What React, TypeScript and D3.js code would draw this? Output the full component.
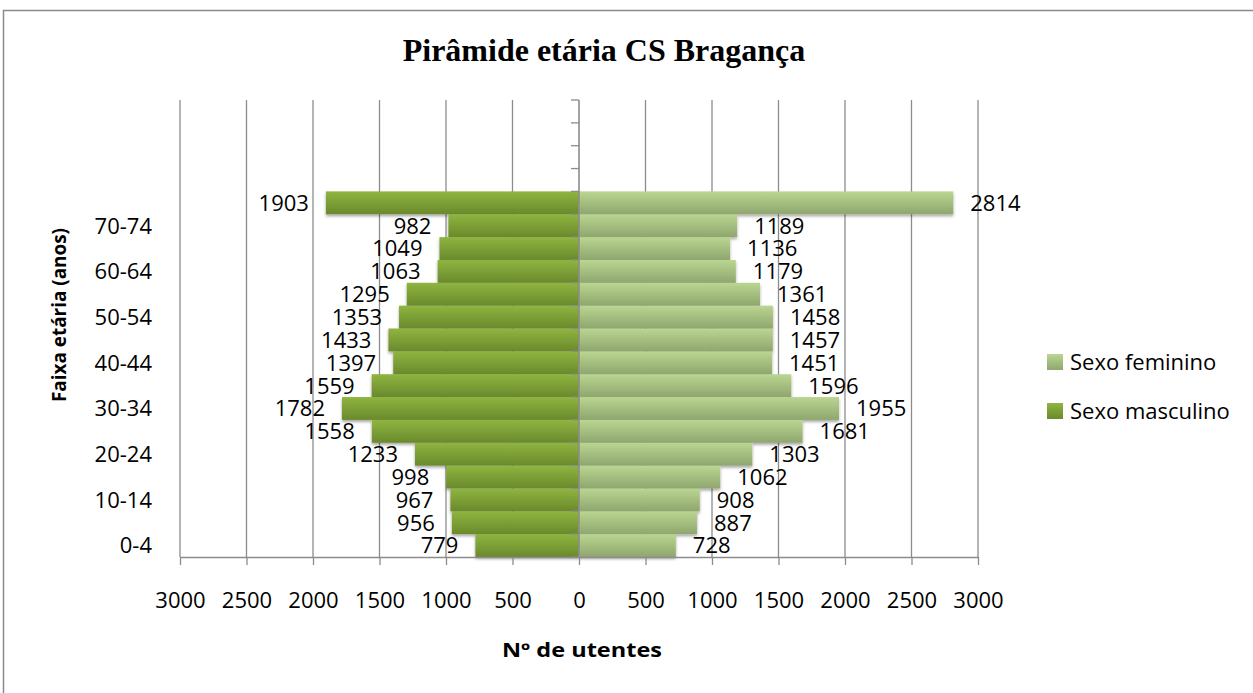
// App.tsx
// Pirâmide etária CS Bragança - population pyramid drawn with D3
import React, { useEffect, useRef } from "react";
import * as d3 from "d3";

// age groups from bottom to top (the last four slots are empty in the original sheet)
const ageGroups = [
  "0-4", "5-9", "10-14", "15-19", "20-24", "25-29", "30-34", "35-39",
  "40-44", "45-49", "50-54", "55-59", "60-64", "65-69", "70-74", "75+",
  "", "", "", "",
];
const masculino = [779, 956, 967, 998, 1233, 1558, 1782, 1559, 1397, 1433, 1353, 1295, 1063, 1049, 982, 1903];
const feminino = [728, 887, 908, 1062, 1303, 1681, 1955, 1596, 1451, 1457, 1458, 1361, 1179, 1136, 1189, 2814];
const xTicks = [-3000, -2500, -2000, -1500, -1000, -500, 0, 500, 1000, 1500, 2000, 2500, 3000];
const legendItems = [
  { label: "Sexo feminino", fill: "url(#gradFem)" },
  { label: "Sexo masculino", fill: "url(#gradMasc)" },
];

const W = 1253, H = 693;
const plot = { left: 180, right: 978, top: 100, bottom: 557 };
const FONT = "'Open Sans', 'Noto Sans', sans-serif";

export default function App() {
  const svgRef = useRef<SVGSVGElement>(null);

  useEffect(() => {
    if (!svgRef.current) return;
    const svg = d3.select(svgRef.current);
    svg.selectAll("*").remove();

    const x = d3.scaleLinear().domain([-3000, 3000]).range([plot.left, plot.right]);
    const y = d3.scaleBand<number>()
      .domain(ageGroups.map((_, i) => i))
      .range([plot.bottom, plot.top])
      .paddingInner(0)
      .paddingOuter(0);

    // gradients + shadow
    const defs = svg.append("defs");
    const grad = (id: string, top: string, bottom: string) => {
      const g = defs.append("linearGradient").attr("id", id)
        .attr("x1", 0).attr("y1", 0).attr("x2", 0).attr("y2", 1);
      g.append("stop").attr("offset", "0%").attr("stop-color", top);
      g.append("stop").attr("offset", "100%").attr("stop-color", bottom);
    };
    grad("gradMasc", "#8fb540", "#6a892c");
    grad("gradFem", "#bad691", "#8fa66e");
    const shadow = defs.append("filter").attr("id", "shadow")
      .attr("x", "-5%").attr("y", "-20%").attr("width", "110%").attr("height", "160%");
    shadow.append("feDropShadow").attr("dx", 0).attr("dy", 2)
      .attr("stdDeviation", 1.6).attr("flood-color", "#000").attr("flood-opacity", 0.35);

    // background + frame (right and bottom edges fall outside the picture)
    svg.append("rect").attr("width", W).attr("height", H).attr("fill", "#fff");
    svg.append("rect")
      .attr("x", 3.5).attr("y", 10.5).attr("width", W + 20).attr("height", H + 20)
      .attr("fill", "none").attr("stroke", "#8a8a8a").attr("stroke-width", 1.5);

    // title
    svg.append("text")
      .attr("x", 604).attr("y", 61)
      .attr("text-anchor", "middle")
      .attr("font-family", "'Liberation Serif', 'Times New Roman', serif")
      .attr("font-weight", "bold").attr("font-size", 32)
      .text("Pirâmide etária CS Bragança");

    // vertical gridlines
    svg.append("g").selectAll("line")
      .data(xTicks.filter((t) => t !== 0))
      .enter().append("line")
      .attr("x1", (d) => x(d)).attr("x2", (d) => x(d))
      .attr("y1", plot.top).attr("y2", plot.bottom)
      .attr("stroke", "#8c8c8c").attr("stroke-width", 1.3);

    // bars
    const bars = svg.append("g").attr("filter", "url(#shadow)");
    bars.selectAll("rect.masc")
      .data(masculino)
      .enter().append("rect")
      .attr("class", "masc")
      .attr("x", (d) => x(-d))
      .attr("y", (_, i) => y(i)!)
      .attr("width", (d) => x(0) - x(-d))
      .attr("height", y.bandwidth())
      .attr("fill", "url(#gradMasc)");
    bars.selectAll("rect.fem")
      .data(feminino)
      .enter().append("rect")
      .attr("class", "fem")
      .attr("x", x(0))
      .attr("y", (_, i) => y(i)!)
      .attr("width", (d) => x(d) - x(0))
      .attr("height", y.bandwidth())
      .attr("fill", "url(#gradFem)");

    // bottom axis
    const xAxis = svg.append("g")
      .attr("transform", `translate(0,${plot.bottom})`)
      .call(d3.axisBottom(x).tickValues(xTicks).tickSize(8).tickSizeOuter(0)
        .tickFormat((d) => String(Math.abs(d as number))));
    xAxis.select(".domain").attr("stroke", "#8c8c8c").attr("stroke-width", 1.5);
    xAxis.selectAll(".tick line").attr("stroke", "#8c8c8c").attr("stroke-width", 1.3);
    xAxis.selectAll(".tick text")
      .attr("font-family", FONT).attr("font-size", 22).attr("fill", "#000")
      .attr("dy", null).attr("y", 51);

    // vertical axis at zero with category tick marks
    const yAxis = svg.append("g");
    yAxis.append("line")
      .attr("x1", x(0)).attr("x2", x(0)).attr("y1", plot.top).attr("y2", plot.bottom)
      .attr("stroke", "#8c8c8c").attr("stroke-width", 1.6);
    yAxis.selectAll("line.tick")
      .data(ageGroups.map((_, i) => i))
      .enter().append("line")
      .attr("class", "tick")
      .attr("x1", x(0) - 8).attr("x2", x(0))
      .attr("y1", (i) => y(i)! + y.bandwidth()).attr("y2", (i) => y(i)! + y.bandwidth())
      .attr("stroke", "#8c8c8c").attr("stroke-width", 1.3);
    yAxis.append("line")
      .attr("x1", x(0) - 8).attr("x2", x(0)).attr("y1", plot.top).attr("y2", plot.top)
      .attr("stroke", "#8c8c8c").attr("stroke-width", 1.3);

    // category labels, every other one, at the low side
    svg.append("g").selectAll("text")
      .data(ageGroups.map((label, i) => ({ label, i })).filter((d) => d.i % 2 === 0 && d.label))
      .enter().append("text")
      .attr("x", 152)
      .attr("y", (d) => y(d.i)! + y.bandwidth() / 2)
      .attr("dy", "0.36em")
      .attr("text-anchor", "end")
      .attr("font-family", FONT).attr("font-size", 22)
      .text((d) => d.label);

    // data labels
    const labels = svg.append("g").attr("font-family", FONT).attr("font-size", 22);
    labels.selectAll("text.masc")
      .data(masculino)
      .enter().append("text")
      .attr("x", (d) => x(-d) - 17)
      .attr("y", (_, i) => y(i)! + y.bandwidth() / 2)
      .attr("dy", "0.36em")
      .attr("text-anchor", "end")
      .text((d) => d);
    labels.selectAll("text.fem")
      .data(feminino)
      .enter().append("text")
      .attr("x", (d) => x(d) + 17)
      .attr("y", (_, i) => y(i)! + y.bandwidth() / 2)
      .attr("dy", "0.36em")
      .attr("text-anchor", "start")
      .text((d) => d);

    // axis titles
    svg.append("text")
      .attr("transform", `translate(66,315) rotate(-90)`)
      .attr("text-anchor", "middle")
      .attr("font-family", FONT).attr("font-weight", "bold").attr("font-size", 19)
      .attr("textLength", 174).attr("lengthAdjust", "spacingAndGlyphs")
      .text("Faixa etária (anos)");
    svg.append("text")
      .attr("x", 582).attr("y", 657)
      .attr("text-anchor", "middle")
      .attr("font-family", FONT).attr("font-weight", "bold").attr("font-size", 19)
      .attr("textLength", 160).attr("lengthAdjust", "spacingAndGlyphs")
      .text("Nº  de utentes");

    // legend
    const legend = svg.append("g").attr("transform", "translate(1047,354)");
    const item = legend.selectAll("g")
      .data(legendItems)
      .enter().append("g")
      .attr("transform", (_, i) => `translate(0,${i * 49})`);
    item.append("rect").attr("width", 16).attr("height", 16).attr("fill", (d) => d.fill);
    item.append("text")
      .attr("x", 23).attr("y", 8).attr("dy", "0.36em")
      .attr("font-family", FONT).attr("font-size", 22)
      .text((d) => d.label);
  }, []);

  return (
    <svg
      ref={svgRef}
      width={W}
      height={H}
      style={{ position: "absolute", left: 0, top: 0, background: "#fff" }}
    />
  );
}
